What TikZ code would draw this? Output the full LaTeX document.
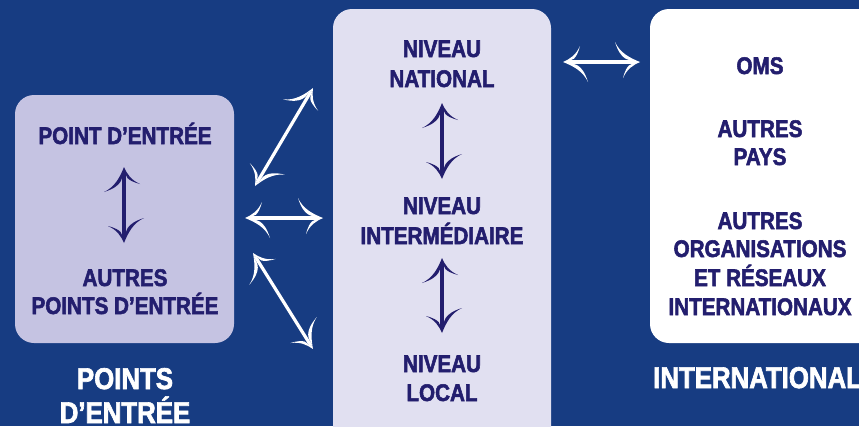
\documentclass[tikz,border=0pt]{standalone}
\usepackage{fontspec}
\newfontfamily\cond{Liberation Sans}[FakeStretch=0.86, UprightFont={* Bold}, FakeBold=2.2]
\usetikzlibrary{decorations.markings}
\definecolor{bgblue}{HTML}{173C82}
\definecolor{lav}{HTML}{C5C3E2}
\definecolor{pale}{HTML}{E1E0F1}
\definecolor{navy}{HTML}{231E6E}
\tikzset{
  brush/.pic={
    \fill (0,0) .. controls (-10,-4) and (-20,-9) .. (-25,-20)
      .. controls (-19,-1) and (-11,-1.5) .. (-4,-1.5) -- (-4,1.5)
      .. controls (-9,1.5) and (-13,1.5) .. (-17,16)
      .. controls (-13,7) and (-7,3) .. (0,0) -- cycle;
  },
  panel/.style={rounded corners=19pt, inner sep=0pt, draw=none},
  txt/.style={font=\cond\fontsize{24}{29}\selectfont, text=navy, inner sep=0pt, anchor=base},
  bigtxt/.style={font=\cond\fontsize{30}{34}\selectfont, text=white, inner sep=0pt, anchor=base},
}
\newcommand\twoway[3]{%
  \draw[line width=3.2pt, #1, shorten >=4pt, shorten <=4pt] (#2) -- (#3);
  \path[decorate, decoration={markings,
      mark=at position 0 with {\pic[#1, transform shape, rotate=180] {brush};},
      mark=at position 1 with {\pic[#1, transform shape] {brush};}}] (#2) -- (#3);
}
\begin{document}
\begin{tikzpicture}[x=1pt, y=-1pt]
\useasboundingbox (0,0) rectangle (859,426);
\clip (0,0) rectangle (859,426);
\fill[bgblue] (0,0) rectangle (859,426);

% panels
\node[panel, fill=lav, minimum width=219pt, minimum height=248pt] (lbox) at (124.5,219) {};
\node[panel, fill=pale, minimum width=218pt, minimum height=440pt] (mbox) at (442,229) {};
\node[panel, fill=white, minimum width=240pt, minimum height=334pt] (rbox) at (770,176) {};

% left panel text
\node[txt] (pe) at (125,144) {POINT D’ENTRÉE};
\node[txt] (ape1) at (125,286) {AUTRES};
\node[txt] (ape2) at (125,314) {POINTS D’ENTRÉE};

% middle panel text
\node[txt] (nat1) at (442,57) {NIVEAU};
\node[txt] (nat2) at (442,87) {NATIONAL};
\node[txt] (int1) at (442,214) {NIVEAU};
\node[txt] (int2) at (442,244) {INTERMÉDIAIRE};
\node[txt] (loc1) at (442,372) {NIVEAU};
\node[txt] (loc2) at (442,401) {LOCAL};

% right panel text
\node[txt] (oms) at (760,74) {OMS};
\node[txt] (ap1) at (760,137) {AUTRES};
\node[txt] (ap2) at (760,165) {PAYS};
\node[txt] (ao1) at (760,229) {AUTRES};
\node[txt] (ao2) at (760,257) {ORGANISATIONS};
\node[txt] (ao3) at (760,286) {ET RÉSEAUX};
\node[txt] (ao4) at (760,315) {INTERNATIONAUX};

% big labels
\node[bigtxt] (lab1) at (125,389) {POINTS};
\node[bigtxt] (lab2) at (125,423) {D’ENTRÉE};
\node[bigtxt, anchor=base west] (lab3) at (653,388) {INTERNATIONAL};

% arrow end points
\coordinate (pa) at (124,167);
\coordinate (pb) at (124,243);
\coordinate (na) at (442,103);
\coordinate (nb) at (442,179);
\coordinate (ia) at (442,258);
\coordinate (ib) at (442,333);
\coordinate (ul1) at (255,186);
\coordinate (ul2) at (313,88);
\coordinate (h1) at (245,218);
\coordinate (h2) at (323,218);
\coordinate (ll1) at (253,253);
\coordinate (ll2) at (313,349);
\coordinate (r1) at (563,62);
\coordinate (r2) at (640,62);

\twoway{navy}{pa}{pb}
\twoway{navy}{na}{nb}
\twoway{navy}{ia}{ib}
\twoway{white}{ul1}{ul2}
\twoway{white}{h1}{h2}
\twoway{white}{ll1}{ll2}
\twoway{white}{r1}{r2}
\end{tikzpicture}
\end{document}
